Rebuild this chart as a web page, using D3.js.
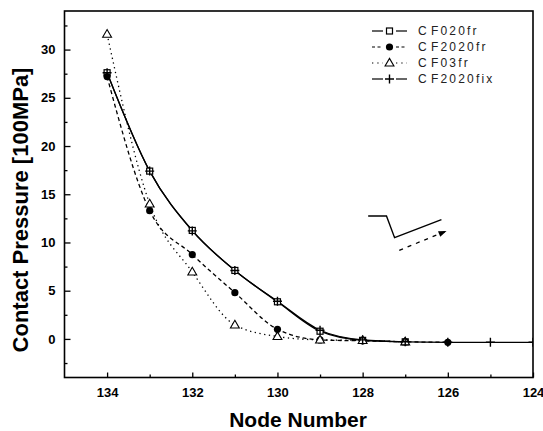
<!DOCTYPE html>
<html><head><meta charset="utf-8">
<script src="https://cdn.jsdelivr.net/npm/d3@7"></script>
<style>
body{margin:0;background:#fff;}
svg{display:block;font-family:"Liberation Sans",Arial,sans-serif;}
</style></head>
<body><svg id="c" width="543" height="431"></svg>
<script>
const nodes = [134,133,132,131,130,129,128,127,126,125,124];
const seriesNames = ["C F020fr","C F2020fr","C F03fr","C F2020fix"];
const cf020fr   = [27.6,17.4,11.25,7.1,3.85,0.8,-0.15,-0.3];
const cf2020fr  = [27.2,13.3,8.75,4.8,1.0,-0.1,-0.2,-0.3,-0.35];
const cf03fr    = [31.6,14.0,6.95,1.45,0.25,-0.1,-0.15,-0.3];
const cf2020fix = [27.6,17.4,11.2,7.1,3.9,0.9,-0.1,-0.3,-0.35,-0.35,-0.35];
const xMajor = [134,132,130,128,126,124];
const xMinor = [133,131,129,127,125];
const yMajor = [0,5,10,15,20,25,30];
const yMinor = [-2.5,2.5,7.5,12.5,17.5,22.5,27.5,32.5];
const insetSolid = [[127.87,12.74],[127.44,12.74],[127.25,10.5],[126.15,12.37]];
const insetDash = [[127.14,9.19],[126.03,11.19]];

const svg = d3.select("#c");
const L=64.5, R=533, T=11, B=377.5;
const x = d3.scaleLinear().domain([135,124]).range([L,R]);
const y = d3.scaleLinear().domain([-4,34]).range([B,T]);

svg.append("defs").append("clipPath").attr("id","clip")
  .append("rect").attr("x",L).attr("y",T).attr("width",R-L).attr("height",B-T);

// axes
svg.append("g").attr("transform",`translate(0,${B})`)
  .call(d3.axisBottom(x).tickValues(xMajor).tickSize(-5).tickPadding(10).tickFormat(d3.format("d")));
svg.append("g").attr("transform",`translate(0,${B})`)
  .call(d3.axisBottom(x).tickValues(xMinor).tickSize(-3).tickFormat(""));
svg.append("g").attr("transform",`translate(${L},0)`)
  .call(d3.axisLeft(y).tickValues(yMajor).tickSize(-6).tickPadding(9).tickFormat(d3.format("d")));
svg.append("g").attr("transform",`translate(${L},0)`)
  .call(d3.axisLeft(y).tickValues(yMinor).tickSize(-3).tickFormat(""));
svg.selectAll(".domain").remove();
svg.selectAll(".tick line").attr("stroke","#000").attr("stroke-width",1.3);
svg.selectAll(".tick text").attr("fill","#000").style("font-size","13px").style("font-weight","bold");

svg.append("rect").attr("x",L).attr("y",T).attr("width",R-L).attr("height",B-T)
  .attr("fill","none").attr("stroke","#000").attr("stroke-width",1.6);

// titles
svg.append("text").attr("x",298).attr("y",427).attr("text-anchor","middle")
  .style("font-size","21px").style("font-weight","bold").text("Node Number");
svg.append("text").attr("transform","translate(28,210) rotate(-90)").attr("text-anchor","middle")
  .style("font-size","22px").style("font-weight","bold").text("Contact Pressure [100MPa]");

const series = [
  {name:seriesNames[0], vals:cf020fr, dash:null, marker:"square"},
  {name:seriesNames[1], vals:cf2020fr, dash:"4,3", marker:"circle"},
  {name:seriesNames[2], vals:cf03fr, dash:"1.3,3.5", marker:"triangle"},
  {name:seriesNames[3], vals:cf2020fix, dash:null, marker:"plus"}
];
const line = d3.line().x(d=>x(d[0])).y(d=>y(d[1])).curve(d3.curveMonotoneX);
const plot = svg.append("g").attr("clip-path","url(#clip)");

function drawMarker(g, type, cx, cy){
  if(type==="square") g.append("rect").attr("x",cx-3).attr("y",cy-3).attr("width",6).attr("height",6)
      .attr("fill","#fff").attr("stroke","#000").attr("stroke-width",1.2);
  else if(type==="circle") g.append("circle").attr("cx",cx).attr("cy",cy).attr("r",3.6).attr("fill","#000");
  else if(type==="triangle") g.append("path").attr("d",d3.symbol(d3.symbolTriangle,34)())
      .attr("transform",`translate(${cx},${cy+0.5})`).attr("fill","#fff").attr("stroke","#000").attr("stroke-width",1.1);
  else if(type==="plus") g.append("path").attr("d",`M${cx-4.5},${cy}H${cx+4.5}M${cx},${cy-4.5}V${cy+4.5}`)
      .attr("stroke","#000").attr("stroke-width",1.4).attr("fill","none");
}

series.forEach(s=>{
  const pts = s.vals.map((v,i)=>[nodes[i],v]);
  plot.append("path").datum(pts).attr("d",line).attr("fill","none").attr("stroke","#000")
    .attr("stroke-width",1.3).attr("stroke-dasharray",s.dash);
});
series.forEach(s=>{
  s.vals.forEach((v,i)=>drawMarker(plot,s.marker,x(nodes[i]),y(v)));
});

// legend
const leg = svg.append("g");
series.forEach((s,i)=>{
  const ly = 31 + i*16;
  [[372,383],[396,407]].forEach(seg=>{
    leg.append("line").attr("x1",seg[0]).attr("x2",seg[1]).attr("y1",ly).attr("y2",ly)
      .attr("stroke","#000").attr("stroke-width",1.2)
      .attr("stroke-dasharray",s.dash ? (s.dash==="4,3"?"3,2.5":"1.3,4") : null);
  });
  drawMarker(leg,s.marker,389.5,ly);
  const parts = s.name.split(" ");
  const t = leg.append("text").attr("x",418).attr("y",ly+4).style("font-size","12px")
    .style("letter-spacing","2.2px").attr("fill","#222");
  t.append("tspan").text(parts[0]);
  t.append("tspan").attr("dx",2).text(parts[1]);
});

// inset sketch
const iline = d3.line().x(d=>x(d[0])).y(d=>y(d[1]));
svg.append("path").datum(insetSolid).attr("d",iline).attr("fill","none").attr("stroke","#000").attr("stroke-width",1.4);
svg.append("path").datum(insetDash).attr("d",iline).attr("fill","none").attr("stroke","#000")
  .attr("stroke-width",1.3).attr("stroke-dasharray","4,5");
const a0 = insetDash[0], a1 = insetDash[1];
const ang = Math.atan2(y(a1[1])-y(a0[1]), x(a1[0])-x(a0[0]))*180/Math.PI;
svg.append("path").attr("d","M0,0L-8,-3L-8,3Z").attr("fill","#000")
  .attr("transform",`translate(${x(a1[0])},${y(a1[1])}) rotate(${ang})`);
</script></body></html>
